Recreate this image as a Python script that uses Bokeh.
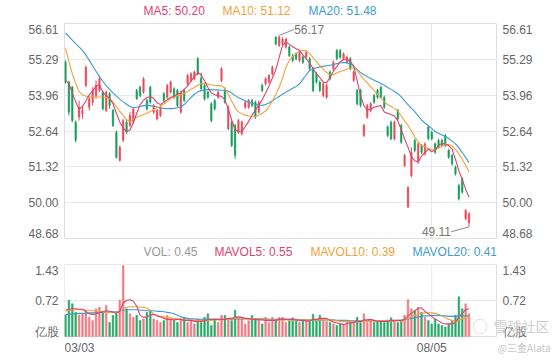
from bokeh.plotting import figure
from bokeh.layouts import column
from bokeh.models import Range1d, FixedTicker, LinearAxis, Grid
from bokeh.core.properties import value
from bokeh.embed import file_html
from bokeh.resources import INLINE

# ---------------- data ----------------
opens = [55.18, 54.45, 54.26, 52.97, 53.16, 53.28, 54.32, 53.52, 53.71, 53.95,
         54.14, 54.08, 53.40, 54.02, 53.40, 52.60, 51.56, 52.30, 52.97, 52.85,
         52.97, 54.14, 54.26, 54.08, 53.77, 54.26, 53.34, 53.09, 53.22, 54.02,
         53.89, 54.08, 54.20, 54.14, 53.34, 54.14, 54.39, 54.51, 54.57, 55.31,
         54.60, 54.32, 54.08, 53.65, 53.77, 53.89, 54.51, 54.14, 52.73, 52.97,
         52.85, 52.60, 52.54, 53.52, 53.52, 53.77, 53.71, 53.34, 54.32, 54.39,
         54.45, 54.75, 56.11, 55.80, 55.86, 55.74, 55.74, 55.43, 55.49, 55.25,
         55.37, 55.37, 55.31, 54.94, 54.75, 54.45, 53.95, 53.89, 54.82, 54.94,
         55.61, 55.61, 55.31, 55.18, 55.31, 54.51, 54.14, 54.14, 52.48, 53.16,
         53.40, 53.95, 54.14, 54.26, 53.89, 52.79, 52.97, 52.36, 53.40, 52.85,
         51.37, 49.84, 51.00, 52.30, 51.50, 52.11, 51.80, 52.79, 52.60, 52.17,
         52.30, 52.30, 52.48, 51.93, 51.74, 51.31, 50.64, 50.88, 49.41, 49.25]
closes = [54.45, 53.34, 53.03, 52.30, 53.52, 53.40, 55.00, 53.83, 54.14, 54.32,
          54.57, 53.46, 54.08, 53.59, 52.85, 51.68, 52.05, 53.03, 52.60, 53.22,
          53.46, 53.83, 53.95, 54.57, 53.46, 53.71, 53.59, 53.40, 53.52, 53.77,
          54.32, 54.45, 53.89, 53.59, 54.08, 53.77, 54.69, 54.75, 54.82, 54.75,
          54.20, 53.83, 53.89, 53.03, 53.46, 54.08, 54.94, 53.71, 53.52, 52.11,
          51.74, 53.03, 52.97, 53.71, 53.77, 53.59, 53.16, 53.71, 54.14, 54.57,
          54.69, 55.00, 55.86, 56.10, 56.04, 56.04, 55.43, 55.25, 55.31, 55.55,
          55.18, 55.55, 54.94, 54.14, 54.45, 54.14, 54.39, 54.32, 54.57, 55.18,
          55.31, 55.37, 55.49, 55.37, 54.94, 54.82, 53.65, 53.59, 52.85, 53.59,
          53.65, 53.71, 53.89, 53.89, 53.52, 52.48, 52.36, 52.97, 53.09, 52.23,
          51.74, 50.57, 51.86, 51.93, 52.17, 51.86, 52.17, 52.36, 52.36, 51.86,
          52.05, 52.11, 52.11, 51.68, 51.43, 51.06, 50.14, 50.39, 49.71, 49.59]
highs = [55.25, 54.50, 54.30, 53.03, 53.77, 53.59, 55.06, 53.95, 54.26, 54.51,
         54.69, 54.14, 54.14, 54.08, 53.46, 52.66, 52.11, 53.09, 53.09, 53.34,
         53.52, 54.20, 54.32, 54.63, 53.83, 54.32, 53.65, 53.46, 53.59, 54.08,
         54.38, 54.51, 54.26, 54.20, 54.14, 54.20, 54.75, 54.82, 54.88, 55.37,
         54.80, 54.40, 54.14, 53.71, 53.83, 54.14, 55.00, 54.26, 53.59, 53.03,
         52.91, 53.09, 53.03, 53.77, 53.83, 53.83, 53.77, 53.77, 54.39, 54.63,
         54.75, 55.06, 56.14, 56.17, 56.10, 56.08, 55.80, 55.49, 55.55, 55.61,
         55.43, 55.61, 55.37, 55.00, 54.82, 54.51, 54.45, 54.39, 54.88, 55.25,
         55.67, 55.67, 55.55, 55.43, 55.37, 54.88, 54.20, 54.20, 52.91, 53.65,
         53.71, 54.02, 54.20, 54.32, 53.95, 52.85, 53.03, 53.03, 53.46, 52.91,
         51.80, 50.60, 52.05, 52.36, 52.23, 52.17, 52.23, 52.85, 52.66, 52.23,
         52.36, 52.36, 52.54, 51.99, 51.80, 51.37, 50.70, 50.94, 49.77, 49.65]
lows = [54.39, 53.22, 52.97, 52.23, 53.03, 53.09, 54.26, 53.40, 53.59, 53.83,
        54.08, 53.40, 53.34, 53.46, 52.79, 51.62, 51.52, 52.23, 52.54, 52.79,
        52.91, 53.80, 53.89, 54.02, 53.40, 53.65, 53.28, 53.03, 53.16, 53.71,
        53.83, 54.02, 53.83, 53.52, 53.28, 53.71, 54.32, 54.45, 54.51, 54.69,
        54.10, 53.77, 53.83, 52.97, 53.40, 53.83, 54.45, 53.65, 52.67, 52.05,
        51.62, 52.54, 52.48, 53.46, 53.46, 53.52, 53.09, 53.28, 54.08, 54.32,
        54.39, 54.69, 55.80, 55.74, 55.80, 55.68, 55.37, 55.18, 55.25, 55.18,
        55.12, 55.31, 54.88, 54.08, 54.39, 54.08, 53.89, 53.83, 54.51, 54.88,
        55.25, 55.31, 55.25, 55.12, 54.88, 54.45, 53.59, 53.52, 52.42, 53.09,
        53.34, 53.65, 53.83, 53.83, 53.46, 52.42, 52.30, 52.30, 53.03, 52.17,
        51.31, 49.80, 50.94, 51.86, 51.43, 51.80, 51.74, 52.30, 52.30, 51.80,
        51.99, 52.05, 52.05, 51.62, 51.37, 51.00, 50.08, 50.33, 49.35, 49.11]
ma5 = [54.51, 54.40, 54.05, 53.72, 53.45, 53.55, 53.75, 53.98, 54.12, 54.30,
       54.35, 54.08, 53.95, 53.85, 53.65, 53.30, 52.98, 52.75, 52.62, 52.68,
       52.95, 53.30, 53.62, 53.78, 53.88, 53.92, 53.85, 53.68, 53.62, 53.70,
       53.80, 53.88, 53.93, 54.00, 54.05, 54.18, 54.30, 54.48, 54.65, 54.80,
       54.72, 54.50, 54.25, 54.05, 53.98, 53.95, 53.92, 53.80, 53.45, 53.05,
       52.70, 52.62, 52.62, 52.80, 53.00, 53.22, 53.42, 53.60, 53.80, 54.05,
       54.30, 54.60, 54.90, 55.35, 55.80, 55.92, 55.85, 55.75, 55.68, 55.62,
       55.45, 55.30, 55.15, 54.95, 54.75, 54.62, 54.45, 54.42, 54.62, 54.85,
       55.02, 55.20, 55.28, 55.30, 55.20, 55.05, 54.50, 53.95, 53.58, 53.42,
       53.45, 53.52, 53.56, 53.58, 53.35, 53.30, 53.25, 53.20, 53.02, 52.70,
       52.35, 52.05, 51.70, 51.55, 51.50, 51.72, 51.85, 51.98, 51.88, 51.95,
       52.12, 52.18, 52.17, 52.10, 51.98, 51.60, 51.18, 50.85, 50.50, 50.20]
ma10 = [55.70, 55.20, 54.75, 54.40, 54.10, 53.98, 53.93, 53.90, 53.90, 53.90,
        53.90, 53.90, 53.89, 53.85, 53.72, 53.55, 53.38, 53.22, 53.06, 53.00,
        53.08, 53.15, 53.20, 53.25, 53.30, 53.36, 53.44, 53.50, 53.55, 53.64,
        53.74, 53.84, 53.90, 53.95, 53.98, 54.03, 54.10, 54.18, 54.26, 54.33,
        54.39, 54.40, 54.38, 54.35, 54.33, 54.32, 54.31, 54.22, 54.00, 53.75,
        53.50, 53.35, 53.28, 53.23, 53.20, 53.18, 53.17, 53.22, 53.30, 53.38,
        53.55, 53.75, 53.98, 54.25, 54.60, 55.00, 55.25, 55.40, 55.50, 55.58,
        55.62, 55.60, 55.50, 55.35, 55.20, 55.06, 54.92, 54.80, 54.72, 54.72,
        54.78, 54.84, 54.88, 54.92, 54.97, 54.98, 54.88, 54.70, 54.55, 54.42,
        54.28, 54.14, 54.00, 53.85, 53.72, 53.62, 53.55, 53.48, 53.38, 53.20,
        53.02, 52.85, 52.65, 52.42, 52.25, 52.10, 52.06, 52.00, 51.96, 51.94,
        52.02, 52.08, 52.14, 52.15, 52.08, 51.97, 51.80, 51.60, 51.38, 51.12]
ma20 = [56.25, 56.13, 56.00, 55.87, 55.75, 55.62, 55.45, 55.25, 55.05, 54.85,
        54.65, 54.48, 54.32, 54.18, 54.05, 53.93, 53.82, 53.72, 53.63, 53.55,
        53.50, 53.52, 53.55, 53.58, 53.59, 53.58, 53.56, 53.53, 53.50, 53.48,
        53.47, 53.47, 53.48, 53.50, 53.53, 53.62, 53.75, 53.88, 54.00, 54.08,
        54.14, 54.16, 54.17, 54.17, 54.16, 54.16, 54.15, 54.15, 54.12, 54.05,
        53.95, 53.88, 53.82, 53.76, 53.71, 53.67, 53.63, 53.60, 53.59, 53.62,
        53.68, 53.76, 53.84, 53.92, 54.00, 54.08, 54.15, 54.22, 54.29, 54.38,
        54.55, 54.72, 54.88, 54.94, 54.98, 55.01, 55.03, 55.05, 55.07, 55.10,
        55.13, 55.16, 55.17, 55.16, 55.12, 55.03, 54.92, 54.80, 54.72, 54.65,
        54.58, 54.52, 54.46, 54.40, 54.33, 54.25, 54.18, 54.10, 54.02, 53.90,
        53.76, 53.62, 53.48, 53.36, 53.20, 53.05, 52.94, 52.84, 52.74, 52.63,
        52.56, 52.50, 52.44, 52.37, 52.27, 52.17, 52.02, 51.85, 51.67, 51.48]
volumes = [0.42, 0.72, 0.65, 0.48, 0.42, 0.45, 0.52, 0.38, 0.32, 0.55,
           0.58, 0.48, 0.62, 0.28, 0.42, 0.45, 0.72, 1.41, 0.55, 0.45,
           0.38, 0.42, 0.32, 0.35, 0.48, 0.52, 0.35, 0.32, 0.28, 0.32,
           0.42, 0.35, 0.32, 0.28, 0.35, 0.38, 0.28, 0.32, 0.25, 0.35,
           0.28, 0.38, 0.45, 0.22, 0.35, 0.28, 0.42, 0.42, 0.35, 0.32,
           0.52, 0.38, 0.35, 0.25, 0.32, 0.42, 0.35, 0.32, 0.25, 0.38,
           0.28, 0.38, 0.32, 0.38, 0.38, 0.28, 0.32, 0.37, 0.32, 0.28,
           0.32, 0.33, 0.30, 0.44, 0.32, 0.42, 0.32, 0.30, 0.28, 0.25,
           0.22, 0.25, 0.24, 0.32, 0.28, 0.28, 0.38, 0.28, 0.45, 0.28,
           0.32, 0.28, 0.30, 0.32, 0.28, 0.33, 0.37, 0.32, 0.28, 0.32,
           0.42, 0.73, 0.55, 0.52, 0.58, 0.48, 0.38, 0.32, 0.25, 0.35,
           0.25, 0.22, 0.19, 0.25, 0.32, 0.42, 0.79, 0.55, 0.65, 0.45]
mavol5 = [0.52, 0.54, 0.55, 0.55, 0.54, 0.54, 0.50, 0.45, 0.44, 0.45,
          0.47, 0.49, 0.51, 0.50, 0.48, 0.46, 0.50, 0.66, 0.72, 0.73,
          0.70, 0.60, 0.42, 0.38, 0.39, 0.42, 0.44, 0.41, 0.39, 0.36,
          0.34, 0.34, 0.33, 0.34, 0.34, 0.32, 0.32, 0.32, 0.30, 0.30,
          0.30, 0.31, 0.34, 0.34, 0.34, 0.34, 0.34, 0.34, 0.36, 0.36,
          0.38, 0.39, 0.38, 0.36, 0.36, 0.34, 0.34, 0.33, 0.33, 0.32,
          0.32, 0.32, 0.32, 0.34, 0.35, 0.34, 0.34, 0.34, 0.33, 0.32,
          0.32, 0.31, 0.31, 0.34, 0.34, 0.36, 0.36, 0.36, 0.32, 0.29,
          0.27, 0.25, 0.24, 0.26, 0.27, 0.28, 0.30, 0.30, 0.33, 0.33,
          0.34, 0.32, 0.30, 0.30, 0.30, 0.30, 0.32, 0.32, 0.32, 0.32,
          0.34, 0.41, 0.46, 0.51, 0.56, 0.57, 0.50, 0.45, 0.40, 0.35,
          0.31, 0.27, 0.25, 0.25, 0.25, 0.28, 0.39, 0.46, 0.53, 0.55]
mavol10 = [0.50, 0.51, 0.52, 0.53, 0.53, 0.53, 0.52, 0.52, 0.51, 0.50,
           0.50, 0.49, 0.48, 0.48, 0.48, 0.48, 0.49, 0.55, 0.58, 0.59,
           0.59, 0.59, 0.58, 0.58, 0.56, 0.52, 0.44, 0.41, 0.40, 0.39,
           0.38, 0.37, 0.36, 0.35, 0.34, 0.33, 0.33, 0.33, 0.32, 0.32,
           0.32, 0.32, 0.32, 0.32, 0.33, 0.33, 0.33, 0.34, 0.34, 0.35,
           0.36, 0.36, 0.36, 0.35, 0.35, 0.35, 0.35, 0.35, 0.34, 0.34,
           0.33, 0.33, 0.33, 0.33, 0.33, 0.33, 0.33, 0.33, 0.33, 0.33,
           0.33, 0.33, 0.33, 0.33, 0.33, 0.33, 0.33, 0.33, 0.33, 0.32,
           0.31, 0.30, 0.30, 0.30, 0.30, 0.29, 0.29, 0.29, 0.30, 0.30,
           0.31, 0.31, 0.31, 0.31, 0.31, 0.31, 0.31, 0.31, 0.31, 0.31,
           0.32, 0.36, 0.39, 0.42, 0.44, 0.46, 0.47, 0.47, 0.47, 0.46,
           0.44, 0.41, 0.37, 0.34, 0.32, 0.30, 0.33, 0.35, 0.37, 0.39]
mavol20 = [0.44, 0.44, 0.45, 0.45, 0.46, 0.46, 0.46, 0.47, 0.47, 0.47,
           0.48, 0.48, 0.48, 0.49, 0.49, 0.49, 0.50, 0.52, 0.53, 0.53,
           0.53, 0.53, 0.52, 0.52, 0.51, 0.51, 0.51, 0.50, 0.50, 0.49,
           0.48, 0.47, 0.45, 0.42, 0.39, 0.37, 0.36, 0.35, 0.35, 0.34,
           0.34, 0.34, 0.34, 0.34, 0.34, 0.34, 0.34, 0.34, 0.34, 0.34,
           0.35, 0.35, 0.35, 0.35, 0.35, 0.35, 0.35, 0.35, 0.35, 0.35,
           0.34, 0.34, 0.34, 0.34, 0.34, 0.34, 0.34, 0.34, 0.34, 0.33,
           0.33, 0.33, 0.33, 0.33, 0.33, 0.33, 0.33, 0.33, 0.33, 0.33,
           0.32, 0.32, 0.32, 0.32, 0.31, 0.31, 0.31, 0.31, 0.31, 0.31,
           0.31, 0.31, 0.31, 0.31, 0.31, 0.31, 0.31, 0.31, 0.32, 0.32,
           0.33, 0.35, 0.36, 0.37, 0.39, 0.40, 0.41, 0.41, 0.42, 0.42,
           0.42, 0.41, 0.41, 0.40, 0.40, 0.40, 0.41, 0.41, 0.41, 0.41]
date_labels = ["03/03", "08/05"]
date_idx = [0, 108]
price_ticks = [48.68, 50.00, 51.32, 52.64, 53.96, 55.29, 56.61]
vol_ticks = [0.0, 0.715, 1.43]
vol_tick_labels = ["亿股", "0.72", "1.43"]

# ---------------- styling / layout ----------------
FONT = "Liberation Sans"
RED, GREEN = "#e84d5b", "#1a9e5c"
VRED, VGREEN = "#f07a82", "#2aa86a"
C5, C10, C20 = "#dd4470", "#f0a33a", "#3d9bd1"
GRIDC = "#e9e9e9"
OUTC = "#dedede"
TXT = "#666666"
W, FL, FR = 560, 64, 64
X0, X1 = -0.3, 127.1
FRAME_W = W - FL - FR
PXU = FRAME_W / (X1 - X0)

N = len(closes)
idx = list(range(N))
up = [c >= o for o, c in zip(opens, closes)]
ccol = [RED if u else GREEN for u in up]
vcol = [VRED if u else VGREEN for u in up]


def strip_grids(p):
    p.center = [r for r in p.center if not isinstance(r, Grid)]


def label_pos(ticks, pyu):
    pos = list(ticks)
    pos[0] = ticks[0] + 5 / pyu
    pos[-1] = ticks[-1] - 6 / pyu
    return pos


def y_axis(ticks, labels, pyu):
    pos = label_pos(ticks, pyu)
    return LinearAxis(ticker=FixedTicker(ticks=pos),
                      major_label_overrides={p_: l for p_, l in zip(pos, labels)},
                      axis_line_color=None, major_tick_line_color=None,
                      minor_tick_line_color=None, major_tick_in=0, major_tick_out=0,
                      major_label_text_color=TXT, major_label_text_font=FONT,
                      major_label_text_font_size="12px", major_label_standoff=6)


def px_to_x(px):
    return X0 + (px - FL) / PXU


def legend_fig(h, pxs, texts, colors, ymid):
    p = figure(width=W, height=h, x_range=Range1d(X0, X1), y_range=Range1d(h, 0),
               output_backend="svg", toolbar_location=None,
               x_axis_location=None, y_axis_location=None,
               min_border_left=FL, min_border_right=FR,
               min_border_top=0, min_border_bottom=0)
    strip_grids(p)
    p.outline_line_color = None
    p.text(x=[px_to_x(v) for v in pxs], y=[ymid] * len(pxs), text=texts,
           text_color=colors, text_font=value(FONT), text_font_size="12px",
           text_baseline="middle")
    return p


# ---------------- price panel ----------------
PH, PTOP, PBOT = 225, 5, 5
p = figure(width=W, height=PH, x_range=Range1d(X0, X1),
           y_range=Range1d(price_ticks[0], price_ticks[-1]),
           output_backend="svg", toolbar_location=None,
           x_axis_location=None, y_axis_location=None,
           min_border_left=FL, min_border_right=FR,
           min_border_top=PTOP, min_border_bottom=PBOT)
strip_grids(p)
p.outline_line_color = OUTC
p.add_layout(Grid(dimension=1, ticker=FixedTicker(ticks=price_ticks), grid_line_color=GRIDC))
p.add_layout(Grid(dimension=0, ticker=FixedTicker(ticks=[date_idx[1]]), grid_line_color=GRIDC))
pfh = PH - PTOP - PBOT
pyu = pfh / (price_ticks[-1] - price_ticks[0])
labels_p = [f"{v:.2f}" for v in price_ticks]
p.add_layout(y_axis(price_ticks, labels_p, pyu), "left")
p.add_layout(y_axis(price_ticks, labels_p, pyu), "right")

p.segment(x0=idx, y0=highs, x1=idx, y1=lows, line_color=ccol, line_width=1)
p.vbar(x=idx, width=0.45, top=[max(o, c) for o, c in zip(opens, closes)],
       bottom=[min(o, c) for o, c in zip(opens, closes)],
       fill_color=ccol, line_color=ccol, line_width=0.5)
p.line(idx, ma20, line_color=C20, line_width=1.1)
p.line(idx, ma10, line_color=C10, line_width=1.1)
p.line(idx, ma5, line_color=C5, line_width=1.1)

# high / low markers
hi_i = max(idx, key=lambda k: highs[k])
lo_i = min(idx, key=lambda k: lows[k])
hx, hy = hi_i, highs[hi_i]
lx, ly = lo_i, lows[lo_i]
p.segment(x0=[hx, lx], y0=[hy, ly],
          x1=[hx + 15 / PXU, lx - 18 / PXU], y1=[hy + 6 / pyu, ly - 5 / pyu],
          line_color="#8a8a8a", line_width=1)
p.text(x=[hx + 15 / PXU], y=[hy + 6 / pyu], text=[f"{hy:.2f}"], text_color="#777777",
       text_font=value(FONT), text_font_size="12px", text_baseline="middle",
       text_align="left")
p.text(x=[lx - 18 / PXU], y=[ly - 5 / pyu], text=[f"{ly:.2f}"], text_color="#777777",
       text_font=value(FONT), text_font_size="12px", text_baseline="middle",
       text_align="right")

# ---------------- volume panel (frame runs to the window edge) ----------------
VH, VTOP = 102, 6
VPLOT_H = 72                       # height of the bar area, px
vpyu = VPLOT_H / (vol_ticks[-1] - vol_ticks[0])
vfh = VH - VTOP
VX1 = X0 + (W - FL) / PXU
v = figure(width=W, height=VH, x_range=Range1d(X0, VX1),
           y_range=Range1d(vol_ticks[-1] - vfh / vpyu, vol_ticks[-1]),
           output_backend="svg", toolbar_location=None,
           x_axis_location=None, y_axis_location=None,
           min_border_left=FL, min_border_right=0,
           min_border_top=VTOP, min_border_bottom=0)
strip_grids(v)
v.frame_align = False
v.outline_line_color = None
v.add_layout(y_axis(vol_ticks, vol_tick_labels, vpyu), "left")

# grid and frame border of the bar area
v.segment(x0=[X0] * len(vol_ticks), y0=vol_ticks, x1=[X1] * len(vol_ticks), y1=vol_ticks,
          line_color=GRIDC, line_width=1)
v.segment(x0=[date_idx[1]], y0=[vol_ticks[0]], x1=[date_idx[1]], y1=[vol_ticks[-1]],
          line_color=GRIDC, line_width=1)
v.segment(x0=[X0, X0, X1, X0], y0=[vol_ticks[0], vol_ticks[-1], vol_ticks[0], vol_ticks[0]],
          x1=[X1, X1, X1, X0], y1=[vol_ticks[0], vol_ticks[-1], vol_ticks[-1], vol_ticks[-1]],
          line_color=OUTC, line_width=1)

v.vbar(x=idx, width=0.5, top=volumes, bottom=0, fill_color=vcol, line_color=vcol, line_width=0.5)
v.line(idx, mavol20, line_color=C20, line_width=1.1)
v.line(idx, mavol10, line_color=C10, line_width=1.1)
v.line(idx, mavol5, line_color=C5, line_width=1.1)

# right-hand tick labels
v.text(x=[X1 + 6 / PXU] * len(vol_ticks), y=label_pos(vol_ticks, vpyu), text=vol_tick_labels,
       text_color=TXT, text_font=value(FONT), text_font_size="12px",
       text_baseline="middle", text_align="left")
# date labels
date_y = vol_ticks[0] - 11 / vpyu
v.text(x=[X0], y=[date_y], text=[date_labels[0]], text_color=TXT, text_font=value(FONT),
       text_font_size="12px", text_baseline="middle", text_align="left")
v.text(x=[date_idx[1]], y=[date_y], text=[date_labels[1]], text_color=TXT,
       text_font=value(FONT), text_font_size="12px", text_baseline="middle",
       text_align="center")
# watermark
wm_y = vol_ticks[0] + 11 / vpyu
v.text(x=[px_to_x(472)], y=[wm_y], text=["◯"], text_color="#cdcdcd",
       text_font=value("Noto Sans CJK SC"), text_font_size="15px",
       text_baseline="middle", text_align="left")
v.text(x=[px_to_x(493)], y=[wm_y], text=["雪球社区"], text_color="#cdcdcd",
       text_font=value("Noto Sans CJK SC"), text_font_size="14px",
       text_baseline="middle", text_align="left")
v.text(x=[px_to_x(497)], y=[date_y], text=["@三金Alata"], text_color="#c8c8c8",
       text_font=value("Noto Sans CJK SC"), text_font_size="10px",
       text_baseline="middle", text_align="left")

# ---------------- legends ----------------
leg1 = legend_fig(18, [143, 222, 308],
                  [f"MA5: {ma5[-1]:.2f}", f"MA10: {ma10[-1]:.2f}", f"MA20: {ma20[-1]:.2f}"],
                  [C5, C10, C20], 10)
leg2 = legend_fig(15, [143, 214, 310, 412],
                  [f"VOL: {volumes[-1]:.2f}", f"MAVOL5: {mavol5[-1]:.2f}",
                   f"MAVOL10: {mavol10[-1]:.2f}", f"MAVOL20: {mavol20[-1]:.2f}"],
                  ["#999999", C5, C10, C20], 8)

layout = column(leg1, p, leg2, v, spacing=0)
open("out.html", "w").write(file_html(layout, INLINE))
